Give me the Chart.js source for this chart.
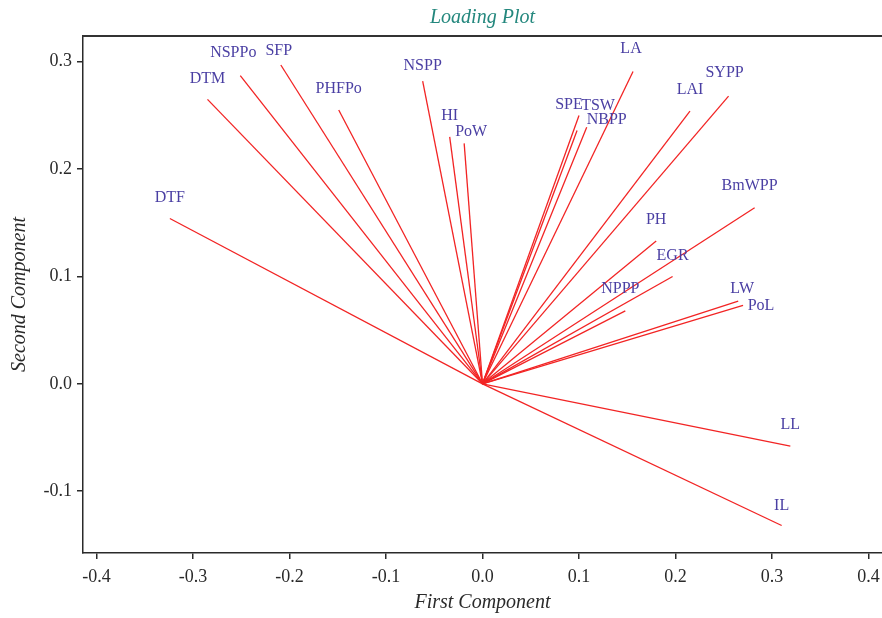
<!DOCTYPE html>
<html>
<head>
<meta charset="utf-8">
<script src="https://cdn.jsdelivr.net/npm/chart.js@4.4.1/dist/chart.umd.min.js"></script>
<style>
  html, body { margin: 0; padding: 0; background: #ffffff; }
  #wrap { width: 882px; height: 618px; position: relative; }
</style>
</head>
<body>
<div id="wrap"><canvas id="c" width="882" height="618"></canvas></div>
<script>
// ---- data ----
const variables = ['DTF','DTM','NSPPo','SFP','PHFPo','NSPP','HI','PoW','SPE','TSW','NBPP',
                   'LA','LAI','SYPP','BmWPP','PH','EGR','NPPP','LW','PoL','LL','IL'];
const firstComponent  = [-0.324,-0.285,-0.251,-0.209,-0.149,-0.062,-0.034,-0.019,0.100,0.098,0.108,
                          0.156,0.215,0.255,0.282,0.180,0.197,0.148,0.265,0.270,0.319,0.310];
const secondComponent = [0.154,0.265,0.287,0.297,0.255,0.282,0.230,0.224,0.250,0.236,0.239,
                          0.291,0.254,0.268,0.164,0.133,0.100,0.068,0.077,0.073,-0.058,-0.132];
const xTickValues = [-0.4,-0.3,-0.2,-0.1,0.0,0.1,0.2,0.3,0.4];
const yTickValues = [-0.1,0.0,0.1,0.2,0.3];

// ---- styling ----
const SERIF = "'Liberation Serif', 'DejaVu Serif', serif";
const LINE_COLOR = '#f22424';
const LABEL_COLOR = '#4a3fa3';
const AXIS_COLOR = '#2a2a2a';
// label offsets in pixels relative to the loading-vector tip (default: centred above)
const labelOffsets = {
  NSPPo: [-7, -23], SFP: [-2, -14], NSPP: [0, -15], PoW: [7, -12], SPE: [-10, -11],
  TSW: [21, -25], NBPP: [20, -7], LA: [-2, -23], SYPP: [-4, -23], NPPP: [-5, -22],
  LW: [4, -12], PoL: [18, 0], IL: [0, -20], BmWPP: [-5, -22]
};

const datasets = variables.map((name, i) => ({
  label: name,
  data: [{x: 0, y: 0}, {x: firstComponent[i], y: secondComponent[i]}],
  showLine: true,
  borderColor: LINE_COLOR,
  borderWidth: 1.3,
  pointRadius: 0,
  pointHoverRadius: 0,
  fill: false
}));

const labelPlugin = {
  id: 'vectorLabels',
  afterDatasetsDraw(chart) {
    const ctx = chart.ctx;
    const xs = chart.scales.x, ys = chart.scales.y;
    ctx.save();
    ctx.font = "16px " + SERIF;
    ctx.fillStyle = LABEL_COLOR;
    ctx.textAlign = 'center';
    ctx.textBaseline = 'middle';
    variables.forEach((name, i) => {
      const off = labelOffsets[name] || [0, -21];
      const px = xs.getPixelForValue(firstComponent[i]);
      const py = ys.getPixelForValue(secondComponent[i]);
      ctx.fillText(name, px + off[0], py + off[1]);
    });
    ctx.restore();
  }
};

const topLinePlugin = {
  id: 'topLine',
  afterDraw(chart) {
    const {ctx, chartArea, width} = chart;
    ctx.save();
    ctx.strokeStyle = '#333';
    ctx.lineWidth = 2;
    ctx.beginPath();
    ctx.moveTo(chartArea.left - 0.75, chartArea.top);
    ctx.lineTo(width, chartArea.top);
    ctx.stroke();
    ctx.restore();
  }
};

function fmt(v) {
  if (Math.abs(v) < 1e-9) return '0.0';
  return v.toFixed(1);
}

new Chart(document.getElementById('c'), {
  type: 'scatter',
  data: { datasets },
  plugins: [labelPlugin, topLinePlugin],
  options: {
    responsive: false,
    animation: false,
    layout: { padding: 0 },
    plugins: {
      legend: { display: false },
      tooltip: { enabled: false },
      title: {
        display: true,
        text: 'Loading Plot',
        fullSize: false,
        color: '#23877d',
        font: { family: SERIF, size: 20, style: 'italic', weight: 'normal' },
        padding: { top: 6, bottom: 6 }
      }
    },
    scales: {
      x: {
        type: 'linear',
        min: -0.414,
        max: 0.414,
        afterBuildTicks(scale) { scale.ticks = xTickValues.map(v => ({value: v})); },
        afterFit(scale) { scale.height = 65; scale.paddingRight = 0; scale.paddingLeft = 0; },
        ticks: {
          includeBounds: false,
          callback: v => fmt(v),
          color: AXIS_COLOR,
          font: { family: SERIF, size: 18 },
          padding: 7,
          maxRotation: 0
        },
        grid: { display: true, drawOnChartArea: false, drawTicks: true, tickLength: 6, color: AXIS_COLOR, lineWidth: 1.5 },
        border: { display: true, color: AXIS_COLOR, width: 1.5 },
        title: {
          display: true,
          text: 'First Component',
          color: AXIS_COLOR,
          font: { family: SERIF, size: 20, style: 'italic' },
          padding: { top: 0, bottom: 3 }
        }
      },
      y: {
        type: 'linear',
        min: -0.1576,
        max: 0.324,
        afterBuildTicks(scale) { scale.ticks = yTickValues.map(v => ({value: v})); },
        afterFit(scale) { scale.width = 83; },
        ticks: {
          includeBounds: false,
          callback: v => fmt(v),
          color: AXIS_COLOR,
          font: { family: SERIF, size: 18 },
          padding: 5
        },
        grid: { display: true, drawOnChartArea: false, drawTicks: true, tickLength: 6, color: AXIS_COLOR, lineWidth: 1.5 },
        border: { display: true, color: AXIS_COLOR, width: 1.5 },
        title: {
          display: true,
          text: 'Second Component',
          color: AXIS_COLOR,
          font: { family: SERIF, size: 20, style: 'italic' },
          padding: { top: 8, bottom: 0 }
        }
      }
    }
  }
});
</script>
</body>
</html>
